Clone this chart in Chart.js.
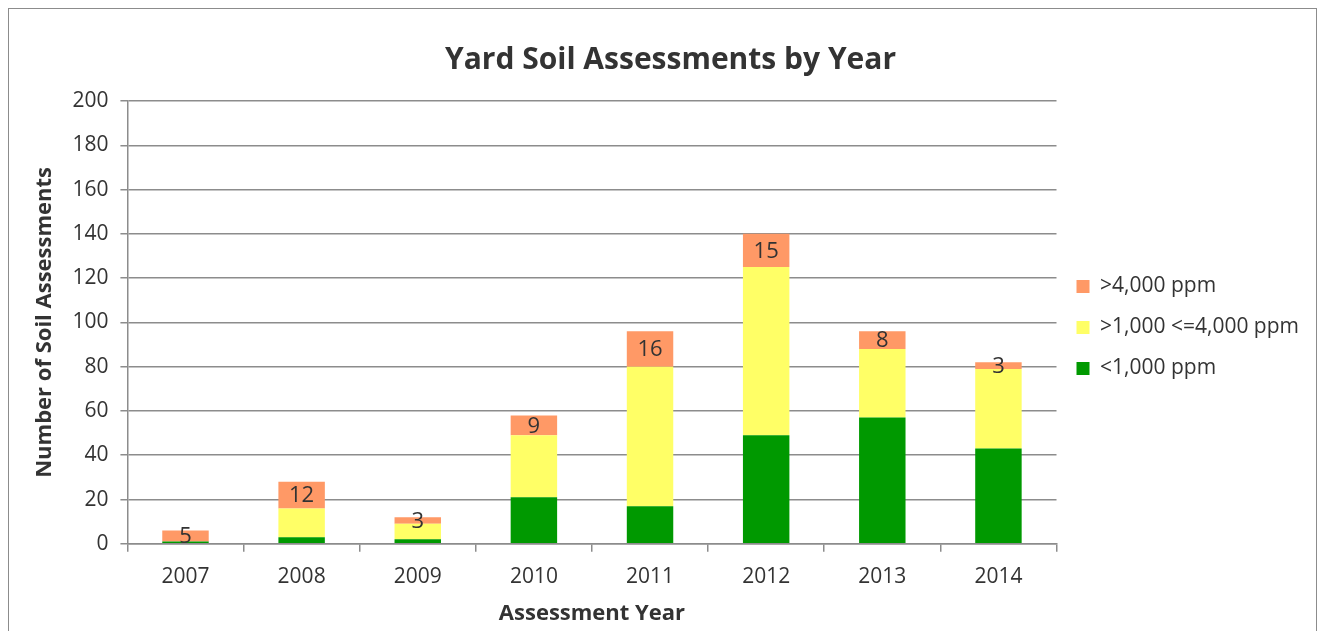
<!DOCTYPE html>
<html>
<head>
<meta charset="utf-8">
<script src="https://cdn.jsdelivr.net/npm/chart.js@4.4.1/dist/chart.umd.min.js"></script>
<style>
  html, body { margin: 0; padding: 0; background: #fff; }
  #frame { position: absolute; left: 8px; top: 8px; width: 1307px; height: 640px; border: 1.5px solid #8c8c8c; }
  #wrap { position: absolute; left: 0; top: 0; width: 1324px; height: 631px; }
</style>
</head>
<body>
<div id="frame"></div>
<div id="wrap"><canvas id="chart"></canvas></div>
<script>
const years = ["2007", "2008", "2009", "2010", "2011", "2012", "2013", "2014"];
const under1000 = [1, 3, 2, 21, 17, 49, 57, 43];
const between1000and4000 = [0, 13, 7, 28, 63, 76, 31, 36];
const over4000 = [5, 12, 3, 9, 16, 15, 8, 3];

const fontFamily = "'Open Sans', 'Noto Sans', sans-serif";

// labels on the top (red) segment
const segmentLabels = {
    id: "segmentLabels",
    afterDatasetsDraw(chart) {
        const ctx = chart.ctx;
        const idx = chart.data.datasets.findIndex(d => d.showValues);
        if (idx < 0) return;
        const meta = chart.getDatasetMeta(idx);
        ctx.save();
        ctx.font = "22px " + fontFamily;
        ctx.fillStyle = "#333";
        ctx.textAlign = "center";
        ctx.textBaseline = "middle";
        meta.data.forEach((bar, i) => {
            const v = chart.data.datasets[idx].data[i];
            const mid = (bar.y + bar.base) / 2;
            ctx.fillText(String(v), bar.x, mid + 1);
        });
        ctx.restore();
    }
};

new Chart(document.getElementById("chart"), {
    type: "bar",
    data: {
        labels: years,
        datasets: [
            { label: "<1,000 ppm", data: under1000, backgroundColor: "#009900" },
            { label: ">1,000 <=4,000 ppm", data: between1000and4000, backgroundColor: "#ffff66" },
            { label: ">4,000 ppm", data: over4000, backgroundColor: "#ff9966", showValues: true }
        ]
    },
    options: {
        responsive: true,
        maintainAspectRatio: false,
        animation: false,
        datasets: { bar: { barPercentage: 0.4, categoryPercentage: 1.0 } },
        layout: { padding: { left: 32, right: 15, top: 30, bottom: 6 } },
        plugins: {
            title: {
                display: true,
                text: "Yard Soil Assessments by Year",
                color: "#333",
                font: { family: fontFamily, size: 30, weight: "bold" },
                padding: { top: 12, bottom: 23 }
            },
            legend: {
                position: "right",
                reverse: true,
                labels: {
                    color: "#333",
                    font: { family: fontFamily, size: 21 },
                    boxWidth: 13,
                    boxHeight: 13,
                    padding: 20
                }
            },
            tooltip: { enabled: false }
        },
        scales: {
            x: {
                stacked: true,
                grid: { display: true, drawOnChartArea: false, drawTicks: true, tickLength: 8, color: "#8c8c8c", lineWidth: 1.5 },
                border: { color: "#8c8c8c", width: 1.5 },
                ticks: { color: "#333", font: { family: fontFamily, size: 21 }, padding: 13 },
                title: {
                    display: true,
                    text: "Assessment Year",
                    color: "#333",
                    font: { family: fontFamily, size: 22, weight: "bold", lineHeight: 1.0 },
                    padding: { top: 0, bottom: 0 }
                }
            },
            y: {
                stacked: true,
                min: 0,
                max: 200,
                grid: { color: "#8c8c8c", lineWidth: 1.5, tickLength: 7 },
                border: { color: "#8c8c8c", width: 1.5 },
                ticks: { stepSize: 20, color: "#333", font: { family: fontFamily, size: 21 }, padding: 12 },
                title: {
                    display: true,
                    text: "Number of Soil Assessments",
                    color: "#333",
                    font: { family: fontFamily, size: 22, weight: "bold" },
                    padding: { top: 0, bottom: 2 }
                }
            }
        }
    },
    plugins: [segmentLabels]
});
</script>
</body>
</html>
